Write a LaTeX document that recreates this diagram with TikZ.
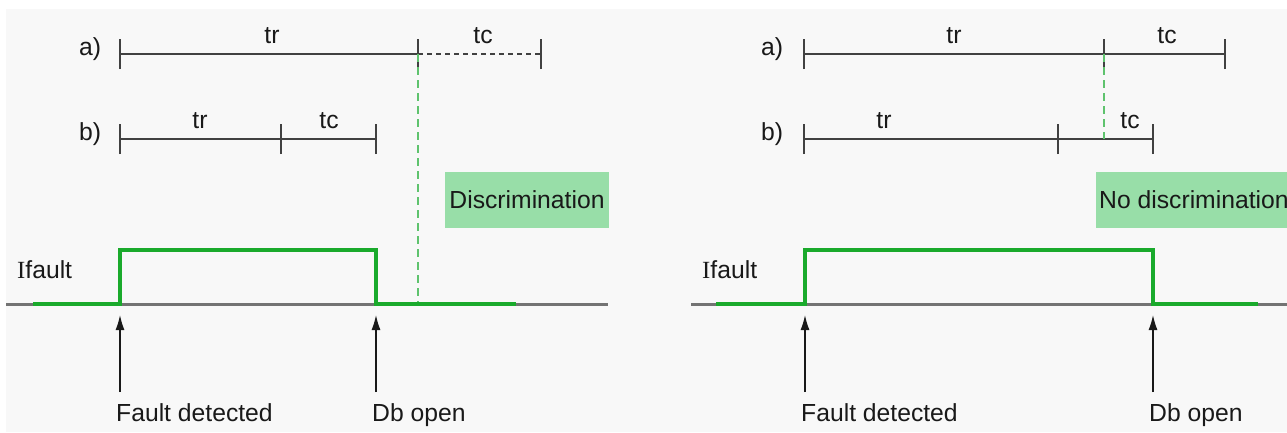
\documentclass[tikz,border=0pt]{standalone}
\usepackage{fontspec}
\setmainfont{Liberation Sans}
\newfontfamily\serifI{Liberation Serif}
\usetikzlibrary{arrows.meta}
\definecolor{bgc}{RGB}{248,248,248}
\definecolor{tlc}{RGB}{65,65,65}
\definecolor{axc}{RGB}{115,115,115}
\definecolor{sgc}{RGB}{26,170,44}
\definecolor{gdc}{RGB}{95,195,110}
\definecolor{boxc}{RGB}{152,222,168}
\definecolor{txc}{RGB}{25,25,25}
\tikzset{
  lbl/.style={font=\fontsize{24.7}{30}\selectfont, text=txc, inner sep=0pt, anchor=base},
  lblw/.style={lbl, anchor=base west},
  tline/.style={draw=tlc, line width=1.8pt},
  tdash/.style={tline, dash pattern=on 5pt off 4pt},
  axisln/.style={draw=axc, line width=3pt},
  sig/.style={draw=sgc, line width=4pt, line join=miter},
  gdash/.style={draw=gdc, line width=2pt, dash pattern=on 8pt off 5pt},
  arr/.style={draw=txc, line width=1.3pt, -{Latex[length=15pt,width=9pt]}},
  boxst/.style={fill=boxc, font=\fontsize{24.7}{30}\selectfont, text=txc, minimum height=56pt}
}
\begin{document}
\begin{tikzpicture}[x=1pt,y=-1pt]
\useasboundingbox (0,0) rectangle (1287,432);
\clip (0,0) rectangle (1287,432);
\fill[white] (0,0) rectangle (1287,432);
\fill[bgc] (6,9) rectangle (1287,432);

% ---------------- left panel ----------------
\coordinate (la0) at (120,54);
\coordinate (la1) at (418,54);
\coordinate (la2) at (541,54);
\coordinate (lb0) at (120,139);
\coordinate (lb1) at (281,139);
\coordinate (lb2) at (376,139);
\draw[tline] (la0) -- (la1);
\draw[tdash] (la1) -- (la2);
\draw[tline] (lb0) -- (lb1) -- (lb2);
\foreach \p in {la0,la1,la2,lb0,lb1,lb2}
  \draw[tline] ([yshift=-15pt]\p) -- ([yshift=15pt]\p);

\node[lbl] (lal) at (90,55) {a)};
\node[lbl] (lbl) at (90,140) {b)};
\node[lbl] (latr) at (272,43) {tr};
\node[lbl] (latc) at (483,43) {tc};
\node[lbl] (lbtr) at (200,128) {tr};
\node[lbl] (lbtc) at (329,128) {tc};

\coordinate (lax0) at (6,304);
\coordinate (lax1) at (608,304);
\draw[axisln] (lax0) -- (lax1);
\coordinate (ld) at (418,304);
\draw[gdash] (la1) -- (ld);
\coordinate (ls0) at (33,304);
\coordinate (ls1) at (120,304);
\coordinate (ls2) at (120,250);
\coordinate (ls3) at (376,250);
\coordinate (ls4) at (376,304);
\coordinate (ls5) at (516,304);
\draw[sig] (ls0) -- (ls1) -- (ls2) -- (ls3) -- (ls4) -- (ls5);

\node[boxst, minimum width=164pt] (ldisc) at (527,200) {Discrimination};
\node[lblw] (lif) at (17,278) {{\serifI I}fault};

\coordinate (lfa) at (120,392);
\coordinate (lft) at (120,315);
\coordinate (loa) at (376,392);
\coordinate (lot) at (376,315);
\draw[arr] (lfa) -- (lft);
\draw[arr] (loa) -- (lot);
\node[lblw] (lfd) at (116,421) {Fault detected};
\node[lblw] (lod) at (372,421) {Db open};

% ---------------- right panel ----------------
\coordinate (ra0) at (804,54);
\coordinate (ra1) at (1104,54);
\coordinate (ra2) at (1225,54);
\coordinate (rb0) at (804,139);
\coordinate (rb1) at (1058,139);
\coordinate (rb2) at (1153,139);
\draw[tline] (ra0) -- (ra1) -- (ra2);
\draw[tline] (rb0) -- (rb1) -- (rb2);
\foreach \p in {ra0,ra1,ra2,rb0,rb1,rb2}
  \draw[tline] ([yshift=-15pt]\p) -- ([yshift=15pt]\p);
\coordinate (rd) at (1104,139);
\draw[gdash] (ra1) -- (rd);

\node[lbl] (ral) at (772,55) {a)};
\node[lbl] (rbl) at (772,140) {b)};
\node[lbl] (ratr) at (954,43) {tr};
\node[lbl] (ratc) at (1167,43) {tc};
\node[lbl] (rbtr) at (884,128) {tr};
\node[lbl] (rbtc) at (1130,128) {tc};

\coordinate (rax0) at (691,304);
\coordinate (rax1) at (1287,304);
\draw[axisln] (rax0) -- (rax1);
\coordinate (rs0) at (716,304);
\coordinate (rs1) at (805,304);
\coordinate (rs2) at (805,250);
\coordinate (rs3) at (1153,250);
\coordinate (rs4) at (1153,304);
\coordinate (rs5) at (1258,304);
\draw[sig] (rs0) -- (rs1) -- (rs2) -- (rs3) -- (rs4) -- (rs5);

\node[boxst, anchor=west, inner xsep=3pt] (rdisc) at (1096,200) {No discrimination};
\node[lblw] (rif) at (702,278) {{\serifI I}fault};

\coordinate (rfa) at (805,392);
\coordinate (rft) at (805,315);
\coordinate (roa) at (1153,392);
\coordinate (rot) at (1153,315);
\draw[arr] (rfa) -- (rft);
\draw[arr] (roa) -- (rot);
\node[lblw] (rfd) at (801,421) {Fault detected};
\node[lblw] (rod) at (1149,421) {Db open};
\end{tikzpicture}
\end{document}
